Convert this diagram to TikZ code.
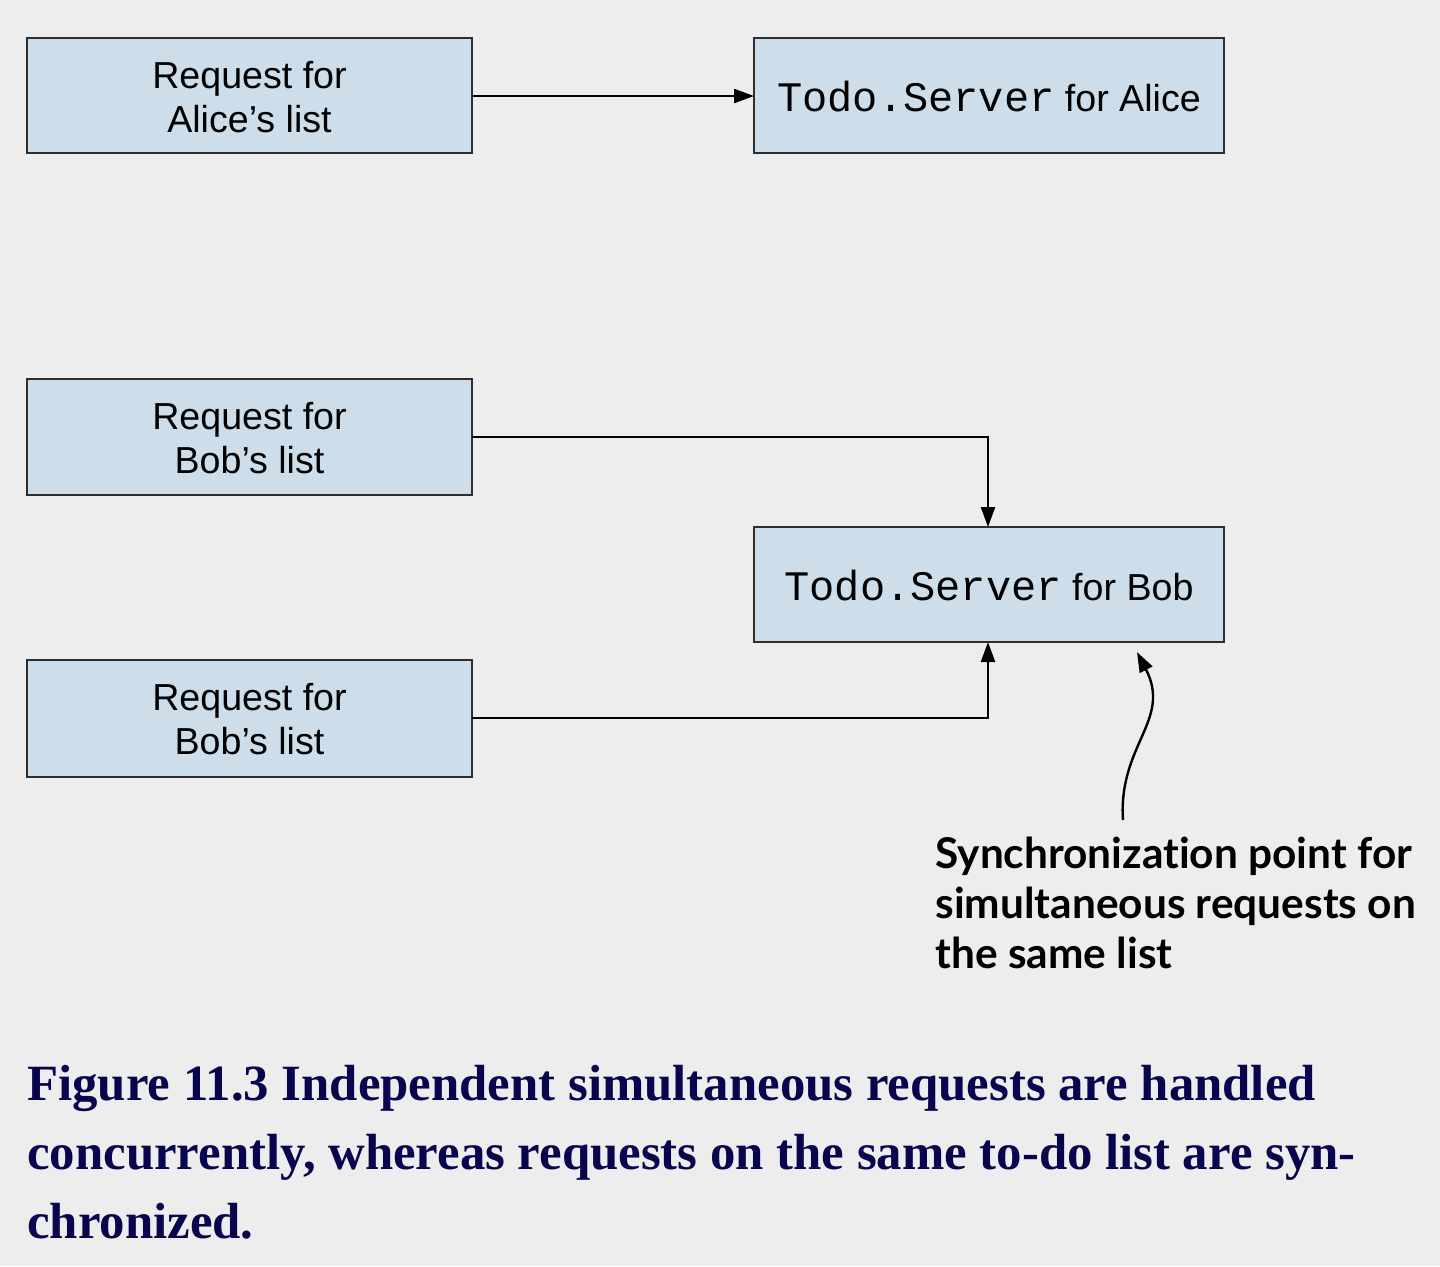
\documentclass[tikz,border=0pt]{standalone}
\usepackage{fontspec}
\setmainfont{Liberation Serif}
\setsansfont{Liberation Sans}
\setmonofont{Liberation Mono}
\newfontfamily\annotfont[RawFeature={-liga;-dlig}]{Lato}
\usetikzlibrary{arrows.meta}
\definecolor{bgc}{HTML}{EDEDED}
\definecolor{boxfill}{HTML}{CDDEEA}
\definecolor{boxdraw}{HTML}{2E2E2E}
\definecolor{capblue}{RGB}{8,4,78}
\tikzset{
  box/.style={draw=boxdraw, line width=1pt, fill=boxfill, inner sep=0pt},
  boxtext/.style={font=\sffamily\fontsize{18.8}{22}\selectfont, align=center},
  conn/.style={line width=1.2pt, -{Triangle[length=10pt,width=7pt]}},
  annot/.style={font=\annotfont\bfseries\fontsize{21.2}{25}\selectfont, anchor=base west, inner sep=0pt},
  captxt/.style={font=\bfseries\fontsize{25.4}{34}\selectfont, text=capblue, anchor=base west, inner sep=0pt}
}
\newcommand{\tsv}{{\ttfamily\fontsize{21}{22}\selectfont Todo.Server}}
\begin{document}
\begin{tikzpicture}[x=0.5pt,y=-0.5pt]
\fill[bgc] (0,0) rectangle (1440,1266);
\useasboundingbox (0,0) rectangle (1440,1266);

\draw[box] (27,38) rectangle (472,153);
\draw[box] (754,38) rectangle (1224,153);
\draw[box] (27,379) rectangle (472,495);
\draw[box] (754,527) rectangle (1224,642);
\draw[box] (27,660) rectangle (472,777);

\node[boxtext] (a1) at (249.5,97) {Request for\\Alice’s list};
\node[boxtext] (as) at (989,97) {\tsv{} for Alice};
\node[boxtext] (b1) at (249.5,438) {Request for\\Bob’s list};
\node[boxtext] (bs) at (989,586) {\tsv{} for Bob};
\node[boxtext] (b2) at (249.5,719) {Request for\\Bob’s list};

\coordinate (a1e) at (472,96);
\coordinate (asw) at (754,96);
\coordinate (b1e) at (472,437);
\coordinate (bsn) at (988,527);
\coordinate (b2e) at (472,718);
\coordinate (bss) at (988,642);
\coordinate (cs) at (1123,820);
\coordinate (ce) at (1137,652);

\draw[conn] (a1e) -- (asw);
\draw[conn] (b1e) -| (bsn);
\draw[conn] (b2e) -| (bss);
\draw[conn] (cs) .. controls (1118,745) and (1172,720) .. (ce);

\node[annot] (n1) at (935,868) {Synchronization point for};
\node[annot] (n2) at (935,918) {simultaneous requests on};
\node[annot] (n3) at (935,968) {the same list};

\node[captxt] (c1) at (27,1100) {Figure 11.3 Independent simultaneous requests are handled};
\node[captxt] (c2) at (27,1169) {concurrently, whereas requests on the same to-do list are syn-};
\node[captxt] (c3) at (27,1238) {chronized.};
\end{tikzpicture}
\end{document}
